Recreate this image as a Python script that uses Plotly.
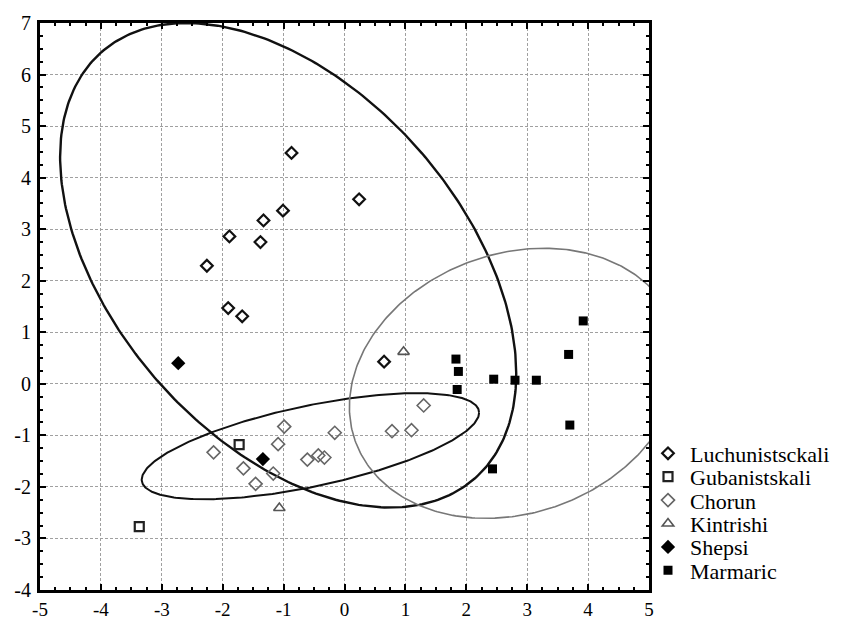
import numpy as np
import plotly.graph_objects as go

# ---- data ----
luch_x = [-0.87, 0.24, -1.01, -1.33, -1.89, -1.38, -2.26, -1.91, -1.68, 0.65]
luch_y = [4.48, 3.58, 3.36, 3.17, 2.86, 2.75, 2.29, 1.47, 1.31, 0.43]

guban_x = [-1.73, -3.37]
guban_y = [-1.18, -2.77]

chorun_x = [-2.15, -0.99, -1.09, -1.66, -1.46, -1.17, -0.61, -0.43, -0.33, -0.16, 0.78, 1.10, 1.30]
chorun_y = [-1.33, -0.83, -1.17, -1.64, -1.94, -1.74, -1.47, -1.39, -1.43, -0.95, -0.92, -0.90, -0.42]

kint_x = [-1.07, 0.97]
kint_y = [-2.41, 0.62]

shepsi_x = [-1.34, -2.73]
shepsi_y = [-1.46, 0.40]

marm_x = [1.83, 1.87, 1.85, 2.45, 2.80, 3.15, 3.68, 3.92, 3.70, 2.43]
marm_y = [0.48, 0.24, -0.11, 0.09, 0.07, 0.07, 0.57, 1.22, -0.80, -1.65]

# confidence ellipses: centre, half-width (x), half-height (y), correlation
ell_names = ["big", "chorun", "marmaric"]
ell_cx = [-0.925, -0.56, 2.80]
ell_cy = [2.30, -1.21, 0.01]
ell_w = [3.745, 2.77, 2.72]
ell_h = [4.70, 1.03, 2.62]
ell_r = [-0.447, 0.63, 0.174]
ell_color = ["#111111", "#111111", "#777777"]
ell_width = [2.4, 2.0, 1.6]

x_ticks = list(range(-5, 6))
y_ticks = list(range(-4, 8))

SERIF = "Liberation Serif, Times New Roman, serif"

fig = go.Figure()

# ellipses
t = np.linspace(0, 2 * np.pi, 361)
for cx, cy, w, h, r, col, lw in zip(ell_cx, ell_cy, ell_w, ell_h, ell_r, ell_color, ell_width):
    ex = cx + w * np.cos(t)
    ey = cy + h * (r * np.cos(t) + np.sqrt(1 - r * r) * np.sin(t))
    fig.add_trace(go.Scatter(x=ex, y=ey, mode="lines", line=dict(color=col, width=lw),
                             showlegend=False, hoverinfo="skip"))

series = [
    ("Luchunistsckali", luch_x, luch_y, dict(symbol="diamond-open", size=9, color="#111", line=dict(width=2.2, color="#111"))),
    ("Gubanistskali", guban_x, guban_y, dict(symbol="square-open", size=9, color="#222", line=dict(width=2.2, color="#222"))),
    ("Chorun", chorun_x, chorun_y, dict(symbol="diamond-open", size=10, color="#666", line=dict(width=1.6, color="#666"))),
    ("Kintrishi", kint_x, kint_y, dict(symbol="triangle-up-open", size=10, color="#555", line=dict(width=1.6, color="#555"))),
    ("Shepsi", shepsi_x, shepsi_y, dict(symbol="diamond", size=11, color="#000", line=dict(width=0))),
    ("Marmaric", marm_x, marm_y, dict(symbol="square", size=9, color="#000", line=dict(width=0))),
]

legend_centre_px = 512
legend_step_px = 23.4
layout_legends = {}
for i, (name, xs, ys, mk) in enumerate(series):
    lg = "legend" if i == 0 else f"legend{i+1}"
    fig.add_trace(go.Scatter(x=xs, y=ys, mode="markers", name=name, marker=mk,
                             legend=lg, hoverinfo="x+y+name"))
    ypx = legend_centre_px + (i - 2.5) * legend_step_px
    layout_legends[lg] = dict(
        x=646 / 860, y=1 - ypx / 619, xref="container", yref="container",
        xanchor="left", yanchor="middle", bgcolor="rgba(0,0,0,0)", borderwidth=0,
        font=dict(family=SERIF, size=22, color="#000"), itemwidth=34,
        tracegroupgap=0,
    )

axis_common = dict(
    showline=True, linewidth=3, linecolor="#000", mirror="ticks",
    ticks="inside", ticklen=6, tickwidth=2, tickcolor="#000",
    showgrid=True, gridcolor="#a0a0a0", gridwidth=1, griddash="3px,2px",
    zeroline=False, automargin=False,
    minor=dict(ticks="inside", ticklen=3, tickwidth=1.5, tickcolor="#000", dtick=0.25, showgrid=False),
)

fig.update_layout(
    width=860, height=619,
    margin=dict(l=40, r=211, t=23, b=29, autoexpand=False),
    paper_bgcolor="white", plot_bgcolor="white",
    xaxis=dict(range=[-5, 5], tickvals=x_ticks, ticktext=[str(v) for v in x_ticks],
               ticklabelstandoff=0, tickfont=dict(family=SERIF, size=19, color="#000"),
               **axis_common),
    yaxis=dict(range=[-4, 7], tickvals=y_ticks, ticktext=[str(v) for v in y_ticks],
               ticklabelstandoff=2, tickfont=dict(family=SERIF, size=20, color="#000"),
               **axis_common),
    font=dict(family=SERIF, color="#000"),
    **layout_legends,
)

fig.write_html("out.html")
